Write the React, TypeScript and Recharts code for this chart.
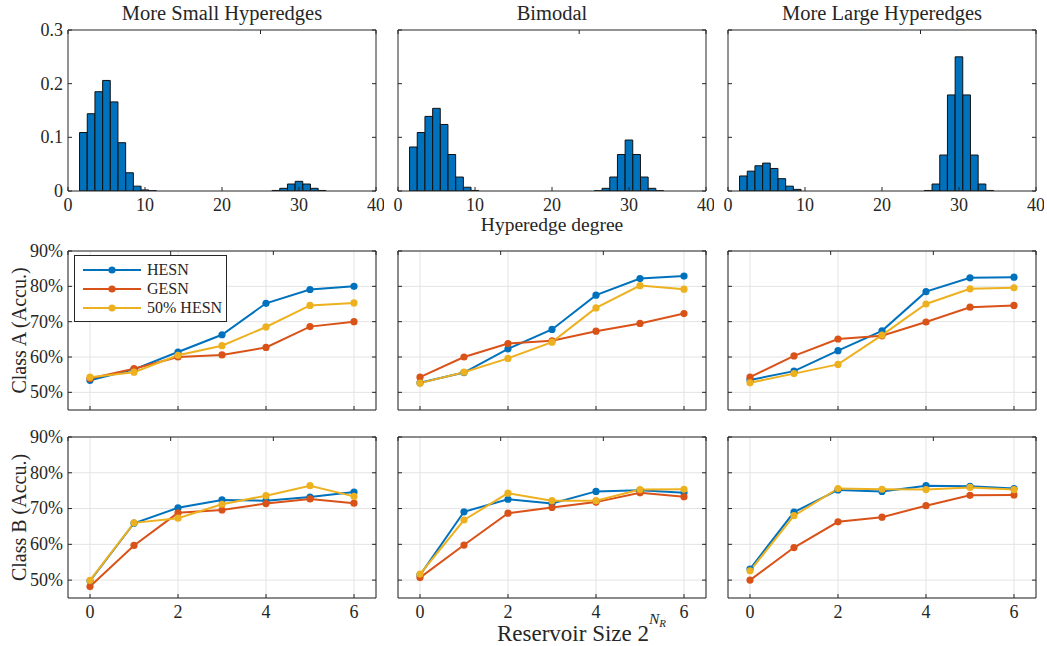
import React from 'react'
import { BarChart, Bar, LineChart, Line, XAxis, YAxis, CartesianGrid, Legend, Label } from 'recharts'

const FONT = '"Liberation Serif", "Times New Roman", serif'
const INK = '#262626'
const GRID = '#e3e3e3'
const BLUE = '#0072BD'
const ORANGE = '#D95319'
const YELLOW = '#EDB120'

// hyperedge degree distributions (fraction of hyperedges per degree)
const smallDeg = [2, 3, 4, 5, 6, 7, 8, 9, 10, 11, 27, 28, 29, 30, 31, 32, 33]
const smallFreq = [0.109, 0.144, 0.185, 0.206, 0.166, 0.09, 0.034, 0.009, 0.002, 0.0005, 0.001, 0.005, 0.013, 0.018, 0.013, 0.005, 0.001]
const bimodalDeg = [2, 3, 4, 5, 6, 7, 8, 9, 10, 26, 27, 28, 29, 30, 31, 32, 33, 34]
const bimodalFreq = [0.082, 0.109, 0.139, 0.154, 0.124, 0.068, 0.026, 0.007, 0.001, 0.0005, 0.005, 0.026, 0.068, 0.095, 0.068, 0.026, 0.005, 0.0005]
const largeDeg = [2, 3, 4, 5, 6, 7, 8, 9, 26, 27, 28, 29, 30, 31, 32, 33, 34]
const largeFreq = [0.028, 0.037, 0.047, 0.052, 0.042, 0.023, 0.009, 0.003, 0.001, 0.013, 0.067, 0.179, 0.25, 0.179, 0.067, 0.013, 0.001]

const degreeTicks = [0, 10, 20, 30, 40]
const freqTicks = [0, 0.1, 0.2, 0.3]

// accuracy (%) vs reservoir size exponent N_R
const reservoirExp = [0, 1, 2, 3, 4, 5, 6]
const expTicks = [0, 2, 4, 6]
const accTicks = [50, 60, 70, 80, 90]
const seriesNames = ['HESN', 'GESN', '50% HESN']

const aSmallHesn = [53.4, 56.5, 61.4, 66.3, 75.2, 79.1, 80.0]
const aSmallGesn = [53.9, 56.7, 60.0, 60.6, 62.7, 68.6, 70.0]
const aSmallHalf = [54.3, 55.7, 60.5, 63.2, 68.5, 74.6, 75.3]

const aBiHesn = [52.7, 55.6, 62.3, 67.8, 77.5, 82.2, 82.9]
const aBiGesn = [54.3, 60.0, 63.8, 64.6, 67.3, 69.5, 72.3]
const aBiHalf = [52.6, 55.7, 59.6, 64.2, 73.9, 80.2, 79.2]

const aLargeHesn = [53.5, 56.0, 61.8, 67.4, 78.5, 82.4, 82.6]
const aLargeGesn = [54.3, 60.3, 65.1, 66.0, 69.9, 74.1, 74.6]
const aLargeHalf = [52.7, 55.3, 57.9, 66.2, 75.0, 79.3, 79.6]

const bSmallHesn = [49.8, 65.9, 70.2, 72.4, 72.2, 73.2, 74.6]
const bSmallGesn = [48.2, 59.7, 68.8, 69.6, 71.4, 72.7, 71.5]
const bSmallHalf = [49.9, 66.0, 67.3, 71.2, 73.6, 76.4, 73.4]

const bBiHesn = [51.4, 69.1, 72.6, 71.4, 74.8, 75.1, 74.4]
const bBiGesn = [50.7, 59.8, 68.7, 70.3, 71.8, 74.4, 73.3]
const bBiHalf = [51.7, 66.8, 74.3, 72.2, 72.2, 75.3, 75.4]

const bLargeHesn = [53.1, 69.0, 75.2, 74.8, 76.4, 76.2, 75.6]
const bLargeGesn = [50.0, 59.1, 66.3, 67.6, 70.8, 73.7, 73.8]
const bLargeHalf = [52.6, 68.0, 75.6, 75.4, 75.3, 75.9, 75.3]

// layout
const COLS = [68, 398, 728]
const PLOT_W = 308
const ML = 62
const MR = 8

const BottomTick = ({ x, y, payload, show }: any) => (
  <g>
    <line x1={x} y1={y} x2={x} y2={y - 4} stroke={INK} />
    {show && (
      <text x={x} y={y + 20} textAnchor="middle" fontFamily={FONT} fontSize={18} fill={INK}>
        {payload.value}
      </text>
    )}
  </g>
)
const TopTick = ({ x, y }: any) => <line x1={x} y1={y} x2={x} y2={y + 4} stroke={INK} />
const LeftTick = ({ x, y, payload, show, fmt }: any) => (
  <g>
    <line x1={x} y1={y} x2={x + 4} y2={y} stroke={INK} />
    {show && (
      <text x={x - 5} y={y} dy="0.33em" textAnchor="end" fontFamily={FONT} fontSize={18} fill={INK}>
        {fmt(payload.value)}
      </text>
    )}
  </g>
)
const RightTick = ({ x, y }: any) => <line x1={x} y1={y} x2={x - 4} y2={y} stroke={INK} />

const titleContent = (text: string) => ({ viewBox }: any) => (
  <text
    x={viewBox.x + viewBox.width / 2}
    y={viewBox.y + viewBox.height - 10}
    textAnchor="middle"
    fontFamily={FONT}
    fontSize={20.5}
    fill={INK}
  >
    {text}
  </text>
)

const yTitleContent = (text: string) => ({ viewBox }: any) => {
  const x = viewBox.x + viewBox.width - 42
  const y = viewBox.y + viewBox.height / 2
  return (
    <text x={x} y={y} transform={`rotate(-90 ${x} ${y})`} textAnchor="middle" fontFamily={FONT} fontSize={20} fill={INK}>
      {text}
    </text>
  )
}

const degreeLabel = ({ viewBox }: any) => (
  <text x={viewBox.x + viewBox.width / 2} y={viewBox.y + 40} textAnchor="middle" fontFamily={FONT} fontSize={19.5} fill={INK}>
    Hyperedge degree
  </text>
)

const reservoirLabel = ({ viewBox }: any) => (
  <text x={viewBox.x + 99} y={viewBox.y + 43} fontFamily={FONT} fontSize={23} fill={INK}>
    Reservoir Size 2
    <tspan dy={-17} fontSize={15.5} fontStyle="italic">N</tspan>
    <tspan dy={3} fontSize={11} fontStyle="italic">R</tspan>
  </text>
)

const LegendBox = ({ payload }: any) => {
  const items = [...(payload || [])].sort(
    (a: any, b: any) => seriesNames.indexOf(a.value) - seriesNames.indexOf(b.value)
  )
  return (
    <div
      style={{
        width: 151,
        height: 61,
        border: `1px solid ${INK}`,
        background: '#fff',
        paddingTop: 4,
        boxSizing: 'content-box',
        fontFamily: FONT,
        fontSize: 16,
        color: INK,
      }}
    >
      {items.map((p: any) => (
        <div key={p.value} style={{ display: 'flex', alignItems: 'center', height: 19.3 }}>
          <svg width={72} height={12} style={{ flex: 'none' }}>
            <line x1={8} y1={6} x2={66} y2={6} stroke={p.color} strokeWidth={2} />
            <circle cx={37} cy={6} r={3.6} fill={p.color} />
          </svg>
          <span style={{ whiteSpace: 'nowrap' }}>{p.value}</span>
        </div>
      ))}
    </div>
  )
}

function HistPanel({ col, deg, freq, title, showY, xTitle }: any) {
  const top = 30
  const h = 161
  const mt = 30
  const mb = 50
  const data = deg.map((d: number, i: number) => ({ deg: d, freq: freq[i] }))
  return (
    <div style={{ position: 'absolute', left: COLS[col] - ML, top: top - mt }}>
      <BarChart
        width={ML + PLOT_W + MR}
        height={mt + h + mb}
        data={data}
        margin={{ top: mt - 1, right: MR - 1, bottom: mb - 1, left: ML - 1 }}
      >
        <XAxis
          dataKey="deg"
          type="number"
          domain={[0, 40]}
          ticks={degreeTicks}
          allowDataOverflow
          height={1}
          tickSize={0}
          tickMargin={0}
          tickLine={false}
          axisLine={{ stroke: INK }}
          tick={(p: any) => <BottomTick {...p} show />}
        >
          {xTitle && <Label content={degreeLabel} />}
        </XAxis>
        <XAxis
          xAxisId="top"
          orientation="top"
          type="number"
          domain={[0, 40]}
          ticks={degreeTicks}
          allowDataOverflow
          height={1}
          tickSize={0}
          tickMargin={0}
          tickLine={false}
          axisLine={{ stroke: INK }}
          tick={(p: any) => <TopTick {...p} />}
        >
          <Label content={titleContent(title)} />
        </XAxis>
        <YAxis
          domain={[0, 0.3]}
          ticks={freqTicks}
          allowDataOverflow
          width={1}
          tickSize={0}
          tickMargin={0}
          tickLine={false}
          axisLine={{ stroke: INK }}
          tick={(p: any) => <LeftTick {...p} show={showY} fmt={(v: number) => String(v)} />}
        />
        <YAxis
          yAxisId="right"
          orientation="right"
          domain={[0, 0.3]}
          ticks={freqTicks}
          allowDataOverflow
          width={1}
          tickSize={0}
          tickMargin={0}
          tickLine={false}
          axisLine={{ stroke: INK }}
          tick={(p: any) => <RightTick {...p} />}
        />
        <Bar dataKey="freq" fill={BLUE} stroke="#111" strokeWidth={1} barSize={7.6} isAnimationActive={false} />
      </BarChart>
    </div>
  )
}

function AccPanel({ col, row, hesn, gesn, half, yTitle, legend, xTitle }: any) {
  const top = row === 'A' ? 251 : 437
  const h = row === 'A' ? 159 : 161
  const mt = 10
  const mb = row === 'A' ? 10 : 48
  const showX = row === 'B'
  const data = reservoirExp.map((n, i) => ({ n, hesn: hesn[i], gesn: gesn[i], half: half[i] }))
  return (
    <div style={{ position: 'absolute', left: COLS[col] - ML, top: top - mt }}>
      <LineChart
        width={ML + PLOT_W + MR}
        height={mt + h + mb}
        data={data}
        margin={{ top: mt - 1, right: MR - 1, bottom: mb - 1, left: ML - 1 }}
      >
        <CartesianGrid stroke={GRID} strokeWidth={1} />
        <XAxis
          dataKey="n"
          type="number"
          domain={[-0.5, 6.5]}
          ticks={expTicks}
          allowDataOverflow
          height={1}
          tickSize={0}
          tickMargin={0}
          tickLine={false}
          axisLine={{ stroke: INK }}
          tick={(p: any) => <BottomTick {...p} show={showX} />}
        >
          {xTitle && <Label content={reservoirLabel} />}
        </XAxis>
        <XAxis
          xAxisId="top"
          orientation="top"
          type="number"
          domain={[-0.5, 6.5]}
          ticks={expTicks}
          allowDataOverflow
          height={1}
          tickSize={0}
          tickMargin={0}
          tickLine={false}
          axisLine={{ stroke: INK }}
          tick={(p: any) => <TopTick {...p} />}
        />
        <YAxis
          domain={[45, 90]}
          ticks={accTicks}
          allowDataOverflow
          width={1}
          tickSize={0}
          tickMargin={0}
          tickLine={false}
          axisLine={{ stroke: INK }}
          tick={(p: any) => <LeftTick {...p} show={!!yTitle} fmt={(v: number) => `${v}%`} />}
        >
          {yTitle && <Label content={yTitleContent(yTitle)} />}
        </YAxis>
        <YAxis
          yAxisId="right"
          orientation="right"
          domain={[45, 90]}
          ticks={accTicks}
          allowDataOverflow
          width={1}
          tickSize={0}
          tickMargin={0}
          tickLine={false}
          axisLine={{ stroke: INK }}
          tick={(p: any) => <RightTick {...p} />}
        />
        {legend && (
          <Legend
            layout="vertical"
            align="center"
            verticalAlign="middle"
            content={<LegendBox />}
            wrapperStyle={{ left: 68, top: 14, width: 153, height: 66 }}
          />
        )}
        <Line type="linear" dataKey="hesn" name={seriesNames[0]} stroke={BLUE} strokeWidth={2} dot={{ r: 3.6, fill: BLUE, stroke: BLUE, strokeWidth: 0 }} activeDot={false} isAnimationActive={false} />
        <Line type="linear" dataKey="gesn" name={seriesNames[1]} stroke={ORANGE} strokeWidth={2} dot={{ r: 3.6, fill: ORANGE, stroke: ORANGE, strokeWidth: 0 }} activeDot={false} isAnimationActive={false} />
        <Line type="linear" dataKey="half" name={seriesNames[2]} stroke={YELLOW} strokeWidth={2} dot={{ r: 3.6, fill: YELLOW, stroke: YELLOW, strokeWidth: 0 }} activeDot={false} isAnimationActive={false} />
      </LineChart>
    </div>
  )
}

export default function App() {
  return (
    <div style={{ position: 'absolute', left: 0, top: 0, width: 1047, height: 646, background: '#fff', overflow: 'hidden' }}>
      <HistPanel col={0} deg={smallDeg} freq={smallFreq} title="More Small Hyperedges" showY />
      <HistPanel col={1} deg={bimodalDeg} freq={bimodalFreq} title="Bimodal" xTitle />
      <HistPanel col={2} deg={largeDeg} freq={largeFreq} title="More Large Hyperedges" />

      <AccPanel col={0} row="A" hesn={aSmallHesn} gesn={aSmallGesn} half={aSmallHalf} yTitle="Class A (Accu.)" legend />
      <AccPanel col={1} row="A" hesn={aBiHesn} gesn={aBiGesn} half={aBiHalf} />
      <AccPanel col={2} row="A" hesn={aLargeHesn} gesn={aLargeGesn} half={aLargeHalf} />

      <AccPanel col={0} row="B" hesn={bSmallHesn} gesn={bSmallGesn} half={bSmallHalf} yTitle="Class B (Accu.)" />
      <AccPanel col={1} row="B" hesn={bBiHesn} gesn={bBiGesn} half={bBiHalf} xTitle />
      <AccPanel col={2} row="B" hesn={bLargeHesn} gesn={bLargeGesn} half={bLargeHalf} />
    </div>
  )
}
